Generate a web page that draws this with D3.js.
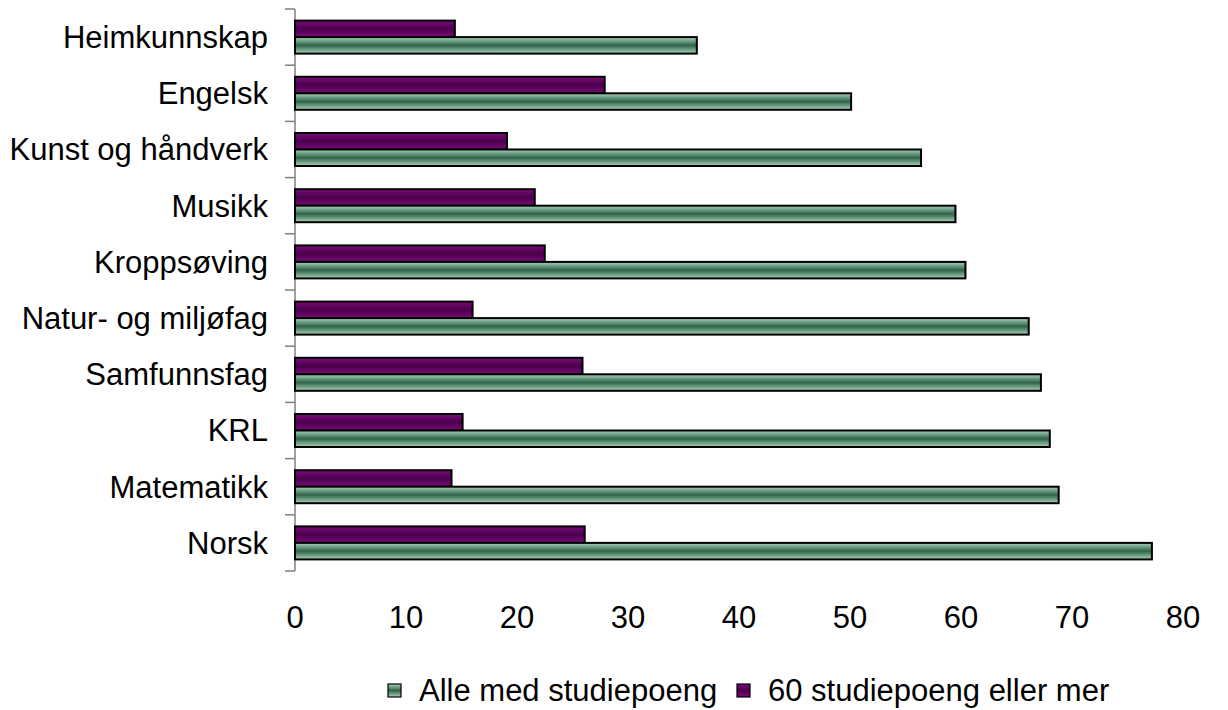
<!DOCTYPE html>
<html>
<head>
<meta charset="utf-8">
<script src="https://cdn.jsdelivr.net/npm/d3@7"></script>
<style>
  body { margin: 0; background: #fff; }
  text { font-family: "Liberation Sans", Arial, sans-serif; fill: #000; }
</style>
</head>
<body>
<script>
// data (top to bottom)
var categories = ["Heimkunnskap", "Engelsk", "Kunst og håndverk", "Musikk", "Kroppsøving",
                  "Natur- og miljøfag", "Samfunnsfag", "KRL", "Matematikk", "Norsk"];
var alle = [36.2, 50.1, 56.4, 59.5, 60.4, 66.1, 67.2, 68.0, 68.8, 77.2];
var seksti = [14.4, 27.9, 19.1, 21.6, 22.5, 16.0, 25.9, 15.1, 14.1, 26.1];
var seriesNames = ["Alle med studiepoeng", "60 studiepoeng eller mer"];
var xTicks = [0, 10, 20, 30, 40, 50, 60, 70, 80];

var width = 1228, height = 710;
var fs = "31px";
var svg = d3.select("body").append("svg")
    .attr("width", width).attr("height", height);

var defs = svg.append("defs");
function stripeGrad(id, edge, mid) {
  var g = defs.append("linearGradient").attr("id", id)
      .attr("x1", 0).attr("y1", 0).attr("x2", 0).attr("y2", 1);
  g.append("stop").attr("offset", "0%").attr("stop-color", edge);
  g.append("stop").attr("offset", "50%").attr("stop-color", mid);
  g.append("stop").attr("offset", "100%").attr("stop-color", edge);
}
stripeGrad("gGreen", "#a9d3bb", "#2f6449");
stripeGrad("gPurple", "#7c0a7c", "#4a004a");

var x = d3.scaleLinear().domain([0, 80]).range([295, 1183]);
var y = d3.scaleBand().domain(categories).range([9, 571]);
var barH = 16.5;

// axis line + category ticks
svg.append("line").attr("x1", 295).attr("x2", 295).attr("y1", 9).attr("y2", 571)
  .attr("stroke", "#808080").attr("stroke-width", 1.5);
var bounds = categories.map(function(c) { return y(c); }).concat([571]);
svg.selectAll("line.tk").data(bounds).enter().append("line")
  .attr("x1", 285).attr("x2", 295)
  .attr("y1", function(d) { return d; }).attr("y2", function(d) { return d; })
  .attr("stroke", "#808080").attr("stroke-width", 1.5);

// category labels
svg.selectAll("text.cat").data(categories).enter().append("text")
  .attr("x", 268)
  .attr("y", function(d) { return y(d) + y.bandwidth() / 2; })
  .attr("text-anchor", "end").attr("dy", "0.35em")
  .style("font-size", fs)
  .text(function(d) { return d; });

// purple bars (upper)
svg.selectAll("rect.p").data(seksti).enter().append("rect")
  .attr("x", x(0))
  .attr("y", function(d, i) { return y(categories[i]) + y.bandwidth() / 2 - barH; })
  .attr("width", function(d) { return x(d) - x(0); })
  .attr("height", barH)
  .attr("fill", "url(#gPurple)").attr("stroke", "#000").attr("stroke-width", 2);

// green bars (lower)
svg.selectAll("rect.g").data(alle).enter().append("rect")
  .attr("x", x(0))
  .attr("y", function(d, i) { return y(categories[i]) + y.bandwidth() / 2; })
  .attr("width", function(d) { return x(d) - x(0); })
  .attr("height", barH)
  .attr("fill", "url(#gGreen)").attr("stroke", "#000").attr("stroke-width", 2);

// x tick labels (no axis line)
svg.selectAll("text.xt").data(xTicks).enter().append("text")
  .attr("x", function(d) { return x(d); })
  .attr("y", 617).attr("dy", "0.35em")
  .attr("text-anchor", "middle")
  .style("font-size", fs)
  .text(function(d) { return d; });

// legend
var legend = [
  { name: seriesNames[0], fill: "url(#gGreen)", x: 388 },
  { name: seriesNames[1], fill: "url(#gPurple)", x: 737 }
];
var lg = svg.selectAll("g.lg").data(legend).enter().append("g");
lg.append("rect")
  .attr("x", function(d) { return d.x; }).attr("y", 684)
  .attr("width", 13).attr("height", 13)
  .attr("fill", function(d) { return d.fill; })
  .attr("stroke", "#000").attr("stroke-width", 1.2);
lg.append("text")
  .attr("x", function(d) { return d.x + 31; })
  .attr("y", 690).attr("dy", "0.35em")
  .style("font-size", fs)
  .text(function(d) { return d.name; });
</script>
</body>
</html>
